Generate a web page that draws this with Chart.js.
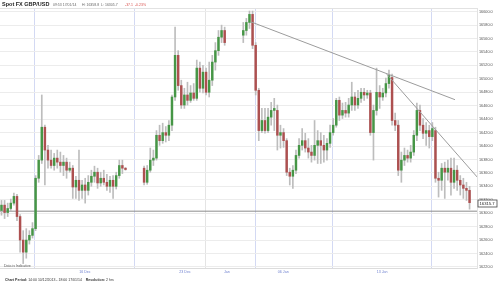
<!DOCTYPE html>
<html>
<head>
<meta charset="utf-8">
<script src="https://cdn.jsdelivr.net/npm/chart.js@4.4.1/dist/chart.umd.min.js"></script>
<style>
html,body{margin:0;padding:0;background:#fff;}
#wrap{position:relative;width:500px;height:284px;overflow:hidden;}
canvas{position:absolute;left:0;top:0;}
.t{position:absolute;white-space:nowrap;font-family:'Liberation Sans',Arial,sans-serif;transform:scale(0.5);transform-origin:0 0;line-height:1;}
</style>
</head>
<body>
<div id="wrap">
<canvas id="c" width="500" height="284"></canvas>
<div class="t" style="left:2px;top:1px;font-size:11px;font-weight:bold;color:#222;">Spot FX GBP/USD</div>
<div class="t" style="left:53px;top:2.5px;font-size:7px;color:#666;">09:53 17/01/14</div>
<div class="t" style="left:82px;top:2.5px;font-size:7px;color:#666;">H: 16358.8&nbsp; L: 16305.7</div>
<div class="t" style="left:125px;top:2.5px;font-size:7px;color:#d9534f;">-37.1&nbsp; -0.23%</div>
<div class="t" style="left:4px;top:264px;font-size:7px;color:#555;">Data is Indicative</div>
<div class="t" style="left:5px;top:278px;font-size:7px;color:#333;"><b>Chart Period:</b> 14:00 10/12/2013 - 18:00 17/01/14&nbsp;&nbsp;&nbsp; <b>Resolution:</b> 2 hrs</div>
</div>
<script>
// ---- data (price x 10000) ----
const openPrices = [
16304,16312,16301,16307,16315,16325,16295,16260,16242,16260,
16267,16277,16352,16379,16428,16394,16379,16371,16382,16376,
16371,16376,16364,16367,16339,16349,16334,16342,16334,16346,
16355,16361,16345,16352,16346,16340,16349,16340,16356,16371,
16367,null,null,null,null,null,16367,16346,16364,16379,
16382,16416,16408,16420,16416,16431,16473,16535,16490,16461,
16476,16468,16479,16471,16516,16486,16510,16480,16498,16525,
16542,16562,16572,null,null,null,null,null,16565,16572,
16584,16596,16550,16483,16423,16438,16423,16443,16453,16453,
16416,16420,16408,16361,16355,16364,16386,16401,16408,16397,
16391,16386,16401,16408,16401,16394,16404,16420,16431,16468,
16446,16453,16449,16461,16473,16461,16471,16480,16476,16479,
16420,16453,16480,16473,16479,16493,16502,16438,16431,16364,
16379,16386,16382,16391,16416,16453,16431,16419,16423,16414,
16423,16352,16349,16367,16361,16367,16346,16364,16349,16342,
16337,16334];
const highPrices = [
16319,16319,16315,16321,16330,16328,16298,16274,16277,16274,
16286,16356,16386,16476,16431,16401,16394,16389,16394,16391,
16386,16382,16376,16371,16355,16394,16349,16352,16356,16364,
16370,16367,16361,16364,16358,16355,16356,16361,16379,16379,
16368,null,null,null,null,null,16370,16371,16397,16394,
16423,16431,16434,16429,16438,16476,16577,16542,16498,16486,
16495,16490,16493,16528,16525,16520,16516,16525,16535,16554,
16572,16580,16577,null,null,null,null,null,16584,16590,
16601,16601,16554,16486,16456,16456,16456,16465,16471,16461,
16431,16426,16411,16367,16371,16394,16411,16426,16419,16411,
16401,16438,16423,16420,16416,16411,16431,16441,16471,16473,
16464,16465,16471,16495,16480,16483,16486,16486,16483,16483,
16461,16516,16490,16486,16501,16513,16507,16449,16438,16391,
16397,16394,16401,16423,16464,16461,16441,16435,16431,16435,
16428,16361,16374,16376,16379,16382,16382,16371,16356,16352,
16346,16340];
const lowPrices = [
16297,16292,16295,16304,16312,16289,16242,16225,16233,16254,
16263,16274,16346,16374,16342,16367,16367,16364,16367,16361,
16356,16352,16361,16322,16322,16319,16322,16315,16327,16340,
16346,16337,16340,16342,16334,16331,16322,16336,16352,16359,
16364,null,null,null,null,null,16342,16343,16361,16371,
16379,16401,16404,16406,16408,16423,16468,16483,16456,16456,
16461,16465,16468,16468,16480,16479,16476,16473,16490,16513,
16535,16554,16550,null,null,null,null,null,16554,16565,
16575,16545,16476,16408,16420,16419,16420,16431,16423,16394,
16397,16398,16356,16342,16337,16359,16382,16394,16391,16382,
16376,16379,16374,16374,16376,16379,16398,16416,16428,16438,
16441,16443,16443,16453,16453,16456,16465,16468,16471,16416,
16379,16446,16456,16468,16473,16486,16431,16423,16356,16346,
16371,16376,16376,16386,16408,16423,16411,16401,16397,16408,
16346,16324,16334,16322,16349,16327,16337,16334,16327,16322,
16319,16306];
const closePrices = [
16312,16301,16307,16315,16325,16295,16260,16242,16260,16267,
16277,16352,16379,16428,16394,16379,16371,16382,16376,16371,
16376,16364,16367,16339,16349,16334,16342,16334,16346,16355,
16361,16345,16352,16346,16340,16349,16340,16356,16371,16367,
16365,null,null,null,null,null,16346,16364,16379,16382,
16416,16408,16420,16416,16431,16473,16535,16490,16461,16476,
16468,16479,16471,16516,16486,16510,16480,16498,16525,16542,
16562,16572,16554,null,null,null,null,null,16572,16584,
16596,16550,16483,16423,16438,16423,16443,16453,16456,16416,
16420,16408,16361,16355,16364,16386,16401,16408,16397,16391,
16386,16401,16408,16401,16394,16404,16420,16431,16468,16446,
16453,16449,16461,16473,16461,16471,16480,16476,16479,16420,
16453,16480,16473,16479,16493,16505,16438,16431,16364,16379,
16386,16382,16391,16416,16453,16431,16419,16423,16414,16426,
16352,16349,16367,16361,16367,16346,16364,16349,16342,16337,
16334,16315.7];

const xTickValues = [26.9, 59.2, 72.7, 90.9, 122.8];
const xTickLabels = ['16 Dec', '23 Dec', 'Jan', '06 Jan', '13 Jan'];
const yTickValues = [16220,16240,16260,16280,16300,16320,16340,16360,16380,16400,
                     16420,16440,16460,16480,16500,16520,16540,16560,16580,16600];
const trendLineA = [{x: 80.4, y: 16585}, {x: 146.3, y: 16469}];
const trendLineB = [{x: 124.3, y: 16507}, {x: 153.8, y: 16352}];
const referenceLevel = 16303;

// ---- build datasets ----
const bodies = [], wicks = [];
for (let i = 0; i < closePrices.length; i++) {
  if (closePrices[i] === null) continue;
  bodies.push({x: i, y: [openPrices[i], closePrices[i]]});
  wicks.push({x: i, y: [lowPrices[i], highPrices[i]]});
}
const X_MIN = -0.48, X_MAX = 153.4;
const refLine = [{x: X_MIN, y: referenceLevel}, {x: X_MAX, y: referenceLevel}];
const lastClose = closePrices[closePrices.length - 1];

const frame = {
  id: 'frame',
  beforeDatasetsDraw(chart) {
    const a = chart.chartArea, c = chart.ctx;
    c.save();
    c.strokeStyle = '#e2e2e2';
    c.lineWidth = 1;
    c.beginPath();
    c.moveTo(a.left, a.top + 0.5); c.lineTo(a.right, a.top + 0.5);
    c.stroke();
    c.restore();
  },
  afterDraw(chart) {
    const a = chart.chartArea, c = chart.ctx;
    const y = Math.round(chart.scales.y.getPixelForValue(lastClose)) + 0.5;
    c.save();
    c.fillStyle = '#fff';
    c.strokeStyle = '#444';
    c.lineWidth = 0.8;
    c.fillRect(a.right + 1, y - 3.5, 19, 7);
    c.strokeRect(a.right + 1, y - 3.5, 19, 7);
    c.fillStyle = '#222';
    c.font = '4.2px "Liberation Sans", Arial, sans-serif';
    c.textBaseline = 'middle';
    c.textAlign = 'left';
    c.fillText(lastClose.toFixed(1), a.right + 2.5, y + 0.3);
    c.restore();
  }
};

new Chart(document.getElementById('c'), {
  type: 'bar',
  data: {
    datasets: [
      {type: 'line', data: trendLineA, borderColor: '#9c9c9c', borderWidth: 1, pointRadius: 0, order: -2},
      {type: 'line', data: trendLineB, borderColor: '#9c9c9c', borderWidth: 1, pointRadius: 0, order: -2},
      {type: 'bar', data: bodies, grouped: false, barThickness: 1.8, order: 0,
        backgroundColor: (ctx) => {
          const r = ctx.raw; if (!r) return '#888';
          return r.y[1] >= r.y[0] ? '#469646' : '#ad5050';
        }},
      {type: 'bar', data: wicks, grouped: false, barThickness: 1, order: 1, backgroundColor: '#bdbdbd'},
      {type: 'line', data: refLine, borderColor: '#8c8c8c', borderWidth: 1, pointRadius: 0, order: 2}
    ]
  },
  options: {
    responsive: false,
    animation: false,
    events: [],
    layout: {padding: {top: 8, left: 0, right: 0, bottom: 8}},
    plugins: {legend: {display: false}, tooltip: {enabled: false}},
    scales: {
      x: {
        type: 'linear', min: X_MIN, max: X_MAX, offset: false,
        afterBuildTicks: (s) => { s.ticks = xTickValues.map(v => ({value: v})); },
        afterFit: (s) => { s.height = 8; },
        ticks: {
          autoSkip: false, maxRotation: 0, padding: 1.5, color: '#6f80cf',
          font: {size: 3.6, family: '"Liberation Sans", Arial, sans-serif'},
          callback: (v, i) => xTickLabels[i]
        },
        grid: {
          drawTicks: false,
          color: (ctx) => (xTickLabels[ctx.index] === 'Jan' ? '#e4e4e4' : '#d3d9f3')
        },
        border: {display: true, color: '#dcdcdc'}
      },
      y: {
        type: 'linear', position: 'right', min: 16218.4, max: 16605.5,
        afterBuildTicks: (s) => { s.ticks = yTickValues.map(v => ({value: v})); },
        afterFit: (s) => { s.width = 23; },
        ticks: {
          padding: 2, color: '#555',
          font: {size: 3.8, family: '"Liberation Sans", Arial, sans-serif'},
          callback: (v) => Number(v).toFixed(1)
        },
        grid: {drawTicks: false, color: '#ececec'},
        border: {display: true, color: '#e2e2e2'}
      }
    }
  },
  plugins: [frame]
});
</script>
</body>
</html>
